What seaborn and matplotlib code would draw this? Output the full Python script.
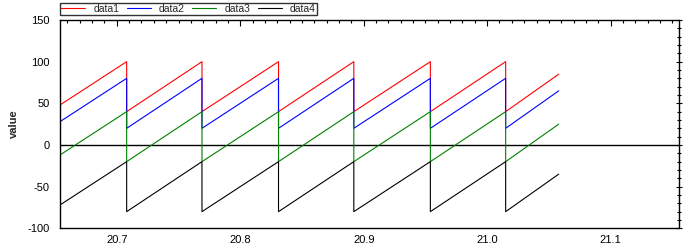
import matplotlib
matplotlib.use("Agg")
import matplotlib.pyplot as plt
from matplotlib.lines import Line2D
from matplotlib.ticker import MultipleLocator, FormatStrFormatter
from matplotlib import font_manager as fm
import seaborn as sns
import pandas as pd

# key points of the sawtooth traces
time = [20.654, 20.708, 20.708, 20.769, 20.769, 20.831, 20.831,
        20.892, 20.892, 20.954, 20.954, 21.015, 21.015, 21.058]
data1 = [48, 100, 40, 100, 40, 100, 40, 100, 40, 100, 40, 100, 40, 85]
data2 = [28, 80, 20, 80, 20, 80, 20, 80, 20, 80, 20, 80, 20, 65]
data3 = [-12, 40, -20, 40, -20, 40, -20, 40, -20, 40, -20, 40, -20, 25]
data4 = [-72, -20, -80, -20, -80, -20, -80, -20, -80, -20, -80, -20, -80, -35]
names = ["data1", "data2", "data3", "data4"]
colors = ["#ff0000", "#0000ff", "#008000", "#000000"]

rows = []
for name, vals in zip(names, [data1, data2, data3, data4]):
    for t, v in zip(time, vals):
        rows.append({"time": t, "value": v, "series": name})
df = pd.DataFrame(rows)

# avoid picking a narrow variant of Liberation Sans
fm.fontManager.ttflist = [f for f in fm.fontManager.ttflist
                          if "Narrow" not in f.fname and "Narrow" not in f.name]

sns.set_style("white")
plt.rcParams["font.family"] = ["Liberation Sans", "DejaVu Sans"]
plt.rcParams["axes.unicode_minus"] = False

fig = plt.figure(figsize=(6.88, 2.5), dpi=100)
ax_h = 228.3 - 20
ax = fig.add_axes([60/688, 1 - 228.3/250, (678.5 - 60)/688, ax_h/250])

sns.lineplot(data=df, x="time", y="value", hue="series", palette=colors,
             estimator=None, sort=False, units="series", lw=0.8, ax=ax, legend=False)
ax.axhline(0, color="black", lw=1.0, zorder=1)

ax.set_xlim(20.654, 21.155)
ax.set_ylim(-100, 150)
ax.xaxis.set_major_locator(MultipleLocator(0.1))
ax.xaxis.set_minor_locator(MultipleLocator(0.01))
ax.yaxis.set_major_locator(MultipleLocator(50))
ax.yaxis.set_minor_locator(MultipleLocator(10))
ax.xaxis.set_major_formatter(FormatStrFormatter("%.1f"))

ax.tick_params(axis="both", which="both", top=True, right=True, labelsize=8,
               colors="black", width=0.8)
ax.tick_params(axis="x", which="major", direction="in", length=4.5, pad=5)
ax.tick_params(axis="x", which="minor", direction="in", length=2)
ax.tick_params(axis="y", which="major", direction="inout", length=5, pad=5)
ax.tick_params(axis="y", which="minor", direction="inout", length=3)
for s in ax.spines.values():
    s.set_color("black")
    s.set_linewidth(1.0)

ax.set_xlabel("")
ax.set_ylabel("value", fontsize=8, fontweight="bold")
ax.yaxis.set_label_coords(-(60 - 19) / 618.5, 0.5)

handles = [Line2D([0], [0], color=c, lw=0.8) for c in colors]
leg = ax.legend(handles, names, ncol=4, loc="lower left",
                bbox_to_anchor=(0, 1 + 5 / ax_h),
                fontsize=7.5, frameon=True, fancybox=False, borderpad=0.1,
                handlelength=2.3, handletextpad=0.8, columnspacing=0.7,
                borderaxespad=0.0)
leg.get_frame().set_edgecolor("black")
leg.get_frame().set_linewidth(1.0)

fig.savefig("out.png", dpi=100)
